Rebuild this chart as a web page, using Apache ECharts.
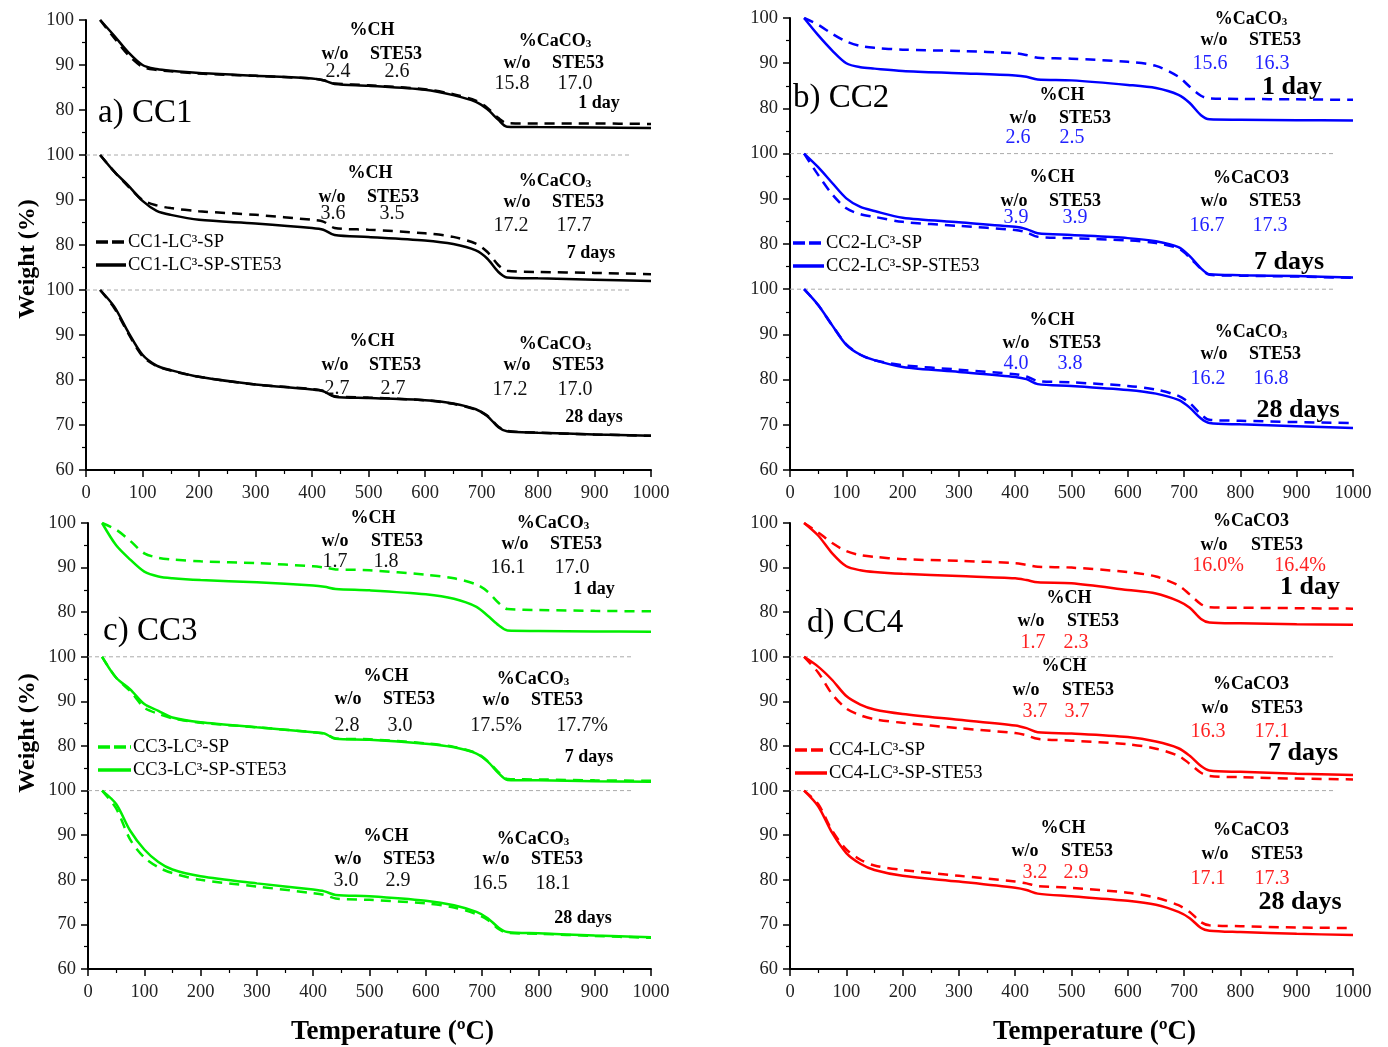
<!DOCTYPE html>
<html><head><meta charset="utf-8">
<script src="https://cdn.jsdelivr.net/npm/echarts@6/dist/echarts.min.js"></script>
<style>html,body{margin:0;padding:0;background:#fff}#c{width:1388px;height:1047px}</style>
</head><body><div id="c"></div>
<script>
// ---------- DATA ----------
const TEMPS = [25,50,75,100,125,150,200,300,400,420,440,500,600,650,690,710,730,745,800,900,1000];
const X_TICKS = [0,100,200,300,400,500,600,700,800,900,1000];
const Y_TICKS = [60,70,80,90,100];
const AGES = ['1 day','7 days','28 days'];

// CC1
const cc1_1d_sp  = [100,96.0,92.2,89.6,88.9,88.6,88.1,87.6,87.0,86.6,85.9,85.5,84.6,83.5,82.1,80.5,78.2,77.1,77.0,77.0,76.9];
const cc1_1d_ste = [100,96.5,92.8,90.0,89.1,88.7,88.2,87.6,87.0,86.6,85.8,85.4,84.5,83.3,81.8,80.2,77.8,76.3,76.2,76.1,76.0];
const cc1_7d_sp  = [100,96.3,93.0,90.0,88.8,88.2,87.5,86.7,85.6,85.2,83.8,83.4,82.6,81.8,80.3,78.5,75.5,74.3,74.0,73.8,73.5];
const cc1_7d_ste = [100,96.3,93.2,89.8,87.6,86.7,85.6,84.8,83.8,83.4,82.2,81.8,81.0,80.2,78.8,77.0,74.0,72.8,72.6,72.3,72.0];
const cc1_28d_sp = [100,96.0,90.3,85.3,83.1,82.1,80.7,79.0,78.0,77.6,76.4,76.1,75.5,74.7,73.4,72.1,69.6,68.7,68.3,67.9,67.6];
const cc1_28d_ste= [100,96.3,90.6,85.6,83.2,82.2,80.7,79.0,77.9,77.5,76.3,76.0,75.5,74.8,73.5,72.0,69.5,68.6,68.3,67.9,67.6];
// CC2
const cc2_1d_sp  = [100,98.5,96.5,94.8,93.8,93.4,93.0,92.7,92.2,91.8,91.2,91.0,90.3,89.4,87.0,84.8,82.8,82.2,82.1,82.0,81.9];
const cc2_1d_ste = [100,96.2,92.8,90.0,89.1,88.8,88.3,87.8,87.3,87.0,86.4,86.2,85.2,84.5,83.0,81.2,78.5,77.6,77.5,77.4,77.3];
const cc2_7d_sp  = [100,95.3,91.0,87.9,86.6,86.0,84.9,84.0,83.1,82.6,81.6,81.3,80.8,80.2,79.0,77.0,74.5,73.2,73.0,72.8,72.5];
const cc2_7d_ste = [100,97.0,93.5,90.1,88.2,87.3,85.8,84.8,83.8,83.3,82.4,82.0,81.3,80.6,79.3,77.3,74.6,73.3,73.1,72.9,72.6];
const cc2_28d_sp = [100,96.5,92.0,87.8,85.5,84.3,83.2,82.2,81.2,80.7,79.7,79.4,78.6,77.8,76.4,74.8,72.3,71.1,70.9,70.6,70.4];
const cc2_28d_ste= [100,96.5,92.0,87.7,85.5,84.3,82.8,81.7,80.6,80.1,79.0,78.6,77.7,76.9,75.5,73.8,71.4,70.4,70.1,69.7,69.3];
// CC3
const cc3_1d_sp  = [100,98.5,96.0,93.2,92.2,91.8,91.4,91.0,90.3,90.0,89.6,89.4,88.4,87.6,86.2,84.6,82.0,80.7,80.5,80.3,80.2];
const cc3_1d_ste = [100,95.0,91.8,89.1,88.0,87.6,87.2,86.7,86.0,85.7,85.2,84.9,84.0,83.0,81.2,79.2,77.0,75.9,75.8,75.7,75.6];
const cc3_7d_sp  = [100,95.3,92.3,88.6,87.2,86.2,85.2,84.2,83.1,82.8,81.7,81.5,80.6,79.8,78.4,76.6,74.0,72.6,72.5,72.3,72.2];
const cc3_7d_ste = [100,95.3,92.7,89.4,87.9,86.4,85.3,84.2,83.1,82.8,81.6,81.4,80.5,79.7,78.3,76.5,73.8,72.4,72.3,72.1,72.0];
const cc3_28d_sp = [100,96.0,89.0,85.0,82.8,81.5,80.0,78.5,77.0,76.6,75.8,75.5,74.7,73.8,72.3,71.0,68.9,68.1,67.9,67.4,67.0];
const cc3_28d_ste= [100,97.0,91.0,86.8,84.0,82.3,80.8,79.2,77.8,77.4,76.6,76.3,75.3,74.3,72.8,71.4,69.2,68.3,68.0,67.5,67.1];
// CC4
const cc4_1d_sp  = [100,97.9,95.5,93.7,92.8,92.4,91.9,91.5,91.0,90.6,90.2,90.0,89.0,88.0,86.0,84.0,81.8,81.1,81.0,80.9,80.8];
const cc4_1d_ste = [100,97.2,93.2,90.3,89.4,89.0,88.6,88.1,87.6,87.2,86.7,86.5,85.0,84.2,82.5,81.0,78.5,77.7,77.5,77.3,77.2];
const cc4_7d_sp  = [100,96.5,91.6,88.4,86.9,86.0,85.2,84.0,82.9,82.4,81.6,81.2,80.4,79.4,77.8,76.0,74.0,73.3,73.0,72.7,72.5];
const cc4_7d_ste = [100,97.8,94.8,91.2,89.3,88.2,87.2,85.9,84.6,84.0,83.1,82.8,82.0,81.0,79.5,77.8,75.5,74.5,74.2,73.8,73.5];
const cc4_28d_sp = [100,97.0,91.0,86.8,84.5,83.2,82.2,80.9,79.6,79.2,78.6,78.2,77.1,76.0,74.3,72.8,70.5,69.8,69.6,69.3,69.2];
const cc4_28d_ste= [100,96.5,90.5,86.0,83.6,82.2,80.9,79.6,78.2,77.7,76.9,76.3,75.3,74.4,72.8,71.4,69.2,68.6,68.3,67.9,67.6];

const PANEL_NAMES = ['a) CC1','b) CC2','c) CC3','d) CC4'];
const SAMPLES = ['CC1','CC2','CC3','CC4'];
const CURVES = [
  [[cc1_1d_sp,cc1_1d_ste],[cc1_7d_sp,cc1_7d_ste],[cc1_28d_sp,cc1_28d_ste]],
  [[cc2_1d_sp,cc2_1d_ste],[cc2_7d_sp,cc2_7d_ste],[cc2_28d_sp,cc2_28d_ste]],
  [[cc3_1d_sp,cc3_1d_ste],[cc3_7d_sp,cc3_7d_ste],[cc3_28d_sp,cc3_28d_ste]],
  [[cc4_1d_sp,cc4_1d_ste],[cc4_7d_sp,cc4_7d_ste],[cc4_28d_sp,cc4_28d_ste]]
];
// %CH (w/o, STE53) and %CaCO3 (w/o, STE53) per panel and age
const CH_VALUES = [
  [['2.4','2.6'],['3.6','3.5'],['2.7','2.7']],
  [['2.6','2.5'],['3.9','3.9'],['4.0','3.8']],
  [['1.7','1.8'],['2.8','3.0'],['3.0','2.9']],
  [['1.7','2.3'],['3.7','3.7'],['3.2','2.9']]
];
const CACO3_VALUES = [
  [['15.8','17.0'],['17.2','17.7'],['17.2','17.0']],
  [['15.6','16.3'],['16.7','17.3'],['16.2','16.8']],
  [['16.1','17.0'],['17.5%','17.7%'],['16.5','18.1']],
  [['16.0%','16.4%'],['16.3','17.1'],['17.1','17.3']]
];

// ---------- LAYOUT / STYLE ----------
const FONT = "'Liberation Serif','Times New Roman',serif";
const COLORS = ['#000000','#0000ff','#00ee00','#ff0000'];
const NUMCOLORS = ['#111111','#2222ff','#111111','#ff2222'];
const OFFSETS = [60,30,0];
const SEP_END = 965;
const GRIDS = [
  {left:86, top:20, width:565, height:450},
  {left:790, top:18, width:563, height:452},
  {left:88, top:523, width:563, height:452},
  {left:790, top:523, width:563, height:452}
];

function yLab(v){ return v<=100 ? String(v) : (v<=130 ? String(v-30) : String(v-60)); }

const grid=[], xAxis=[], yAxis=[], series=[];
GRIDS.forEach((g,p)=>{
  grid.push(g);
  xAxis.push({gridIndex:p, type:'value', min:0, max:1000, interval:100,
    name: p>=2 ? 'Temperature (ºC)' : '', nameLocation:'middle', nameGap:50,
    nameTextStyle:{fontFamily:FONT, fontWeight:'bold', fontSize:27, color:'#000', padding:[0,0,0,46]},
    axisLine:{lineStyle:{color:'#000', width:2}},
    axisTick:{length:7, lineStyle:{color:'#000', width:1.5}},
    minorTick:{show:true, splitNumber:2, length:4, lineStyle:{color:'#000', width:1.2}},
    axisLabel:{fontFamily:FONT, fontSize:18.5, color:'#222', margin:14, formatter:(v)=>String(v)},
    splitLine:{show:false}});
  yAxis.push({gridIndex:p, type:'value', min:60, max:160, interval:10,
    axisLine:{show:true, lineStyle:{color:'#000', width:2}},
    axisTick:{show:true, length:7, lineStyle:{color:'#000', width:1.5}},
    minorTick:{show:true, splitNumber:2, length:4, lineStyle:{color:'#000', width:1.2}},
    axisLabel:{fontFamily:FONT, fontSize:18.5, color:'#222', margin:12, formatter:yLab},
    splitLine:{show:false}});
  // separators
  [100,130].forEach(s=>{
    series.push({type:'line', xAxisIndex:p, yAxisIndex:p, silent:true, symbol:'none',
      data:[[0,s],[SEP_END,s]], lineStyle:{color:'#aaaaaa', width:1, type:[4,3]}, z:1});
  });
  CURVES[p].forEach((pair,a)=>{
    pair.forEach((arr,k)=>{
      series.push({type:'line', name: SAMPLES[p]+(k===0?'-LC³-SP':'-LC³-SP-STE53')+' '+AGES[a],
        xAxisIndex:p, yAxisIndex:p, symbol:'none', smooth:0.3,
        data: TEMPS.map((t,i)=>[t, arr[i]+OFFSETS[a]]),
        lineStyle:{color:COLORS[p], width:2.5, type: k===0 ? [10,7] : 'solid'}, z:3});
    });
  });
});

// ---------- ANNOTATIONS ----------
const graphic=[];
function T(x,y,text,size,bold,color,align,rot){
  graphic.push({type:'text', x:x, y:y, rotation:rot||0, silent:true, style:{text:text, fill:color||'#000',
    font:(bold?'bold ':'')+size+'px '+FONT, align:align||'center', verticalAlign:'middle'}});
}
function TSub(x,y,main,sub,size){
  graphic.push({type:'text', x:x, y:y, silent:true, style:{text:'{a|'+main+'}{s|'+sub+'}',
    align:'center', verticalAlign:'middle',
    rich:{a:{font:'bold '+size+'px '+FONT, fill:'#000', lineHeight:20, verticalAlign:'bottom'},
          s:{font:'bold '+Math.round(size*0.62)+'px '+FONT, fill:'#000', lineHeight:12, verticalAlign:'bottom'}}}});
}
// block: [hx,hy, ly, wx,sx, ny, n1x,n2x]
function block(p, a, kind, b){
  const [hx,hy,ly,wx,sx,ny,n1x,n2x]=b;
  if(kind==='CH') T(hx,hy,'%CH',18,true);
  else if(kind==='CaSub') TSub(hx,hy,'%CaCO','3',18);
  else T(hx,hy,'%CaCO3',18,true);
  T(wx,ly,'w/o',18,true); T(sx,ly,'STE53',18,true);
  const v = kind==='CH' ? CH_VALUES[p][a] : CACO3_VALUES[p][a];
  T(n1x,ny,v[0],20,false,NUMCOLORS[p]); T(n2x,ny,v[1],20,false,NUMCOLORS[p]);
}
// y-axis titles
T(28,259,'Weight (%)',24,true,'#000','center',Math.PI/2);
T(28,733,'Weight (%)',24,true,'#000','center',Math.PI/2);
// panel a
block(0,0,'CH',[372,30,54,335,396,72,338,397]);
block(0,0,'CaSub',[555,40,63,517,578,84,512,575]);
block(0,1,'CH',[370,173,197,332,393,214,333,392]);
block(0,1,'CaSub',[555,180,202,517,578,226,511,574]);
block(0,2,'CH',[372,341,365,335,395,389,337,393]);
block(0,2,'CaSub',[555,343,365,517,578,390,510,575]);
T(599,103,'1 day',18,true); T(591,253,'7 days',18,true); T(594,417,'28 days',18,true);
// panel b
block(1,0,'CaSub',[1251,18,40,1214,1275,64,1210,1272]);
block(1,0,'CH',[1062,95,118,1023,1085,138,1018,1072]);
block(1,1,'CH',[1052,177,201,1014,1075,218,1016,1075]);
block(1,1,'Ca',[1251,178,201,1214,1275,226,1207,1270]);
block(1,2,'CH',[1052,320,343,1016,1075,364,1016,1070]);
block(1,2,'CaSub',[1251,331,354,1214,1275,379,1208,1271]);
T(1292,87,'1 day',26,true); T(1289,262,'7 days',26,true); T(1298,410,'28 days',26,true);
// panel c
block(2,0,'CH',[373,518,541,335,397,562,335,386]);
block(2,0,'CaSub',[553,522,544,515,576,568,508,572]);
block(2,1,'CH',[386,676,699,348,409,726,347,400]);
block(2,1,'CaSub',[533,678,700,496,557,726,496,582]);
block(2,2,'CH',[386,836,859,348,409,881,346,398]);
block(2,2,'CaSub',[533,838,859,496,557,884,490,553]);
T(594,589,'1 day',18,true); T(589,757,'7 days',18,true); T(583,918,'28 days',18,true);
// panel d
block(3,0,'Ca',[1251,521,545,1214,1277,566,1218,1300]);
block(3,0,'CH',[1069,598,621,1031,1093,643,1033,1076]);
block(3,1,'CH',[1064,666,690,1026,1088,712,1035,1077]);
block(3,1,'Ca',[1251,684,708,1215,1277,732,1208,1272]);
block(3,2,'CH',[1063,828,851,1025,1087,873,1035,1076]);
block(3,2,'Ca',[1251,830,854,1215,1277,879,1208,1272]);
T(1310,587,'1 day',26,true); T(1303,753,'7 days',26,true); T(1300,902,'28 days',26,true);

// panel titles
const TITLE_POS = [[98,113],[793,98],[103,631],[807,623]];
TITLE_POS.forEach((q,p)=>T(q[0],q[1],PANEL_NAMES[p],33,false,'#000','left'));

// legends
const LEG_POS = [[96,242,128],[793,243,826],[98,747,133],[795,750,829]];
LEG_POS.forEach((q,p)=>{
  [0,1].forEach(k=>{
    const y=q[1]+k*23;
    graphic.push({type:'line', silent:true, shape:{x1:q[0],y1:y,x2:q[2]-2,y2:y},
      style:{stroke:COLORS[p], lineWidth:3.5, lineDash: k===0?[12,4]:null}});
    T(q[2],y,SAMPLES[p]+(k===0?'-LC³-SP':'-LC³-SP-STE53'),18.5,false,'#000','left');
  });
});

const chart = echarts.init(document.getElementById('c'), null, {renderer:'canvas'});
chart.setOption({animation:false, backgroundColor:'#fff', grid, xAxis, yAxis, series, graphic});
</script></body></html>
